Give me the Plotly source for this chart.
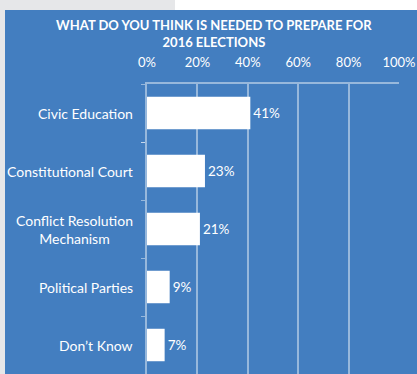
import plotly.graph_objects as go

categories = ["Civic Education", "Constitutional Court", "Conflict Resolution<br>Mechanism",
              "Political Parties", "Don\u2019t Know"]
values = [41, 23, 21, 9, 7]
tick_vals = [0, 20, 40, 60, 80, 100]
tick_text = ["0%", "20%", "40%", "60%", "80%", "100%"]
title_text = "WHAT DO YOU THINK IS NEEDED TO PREPARE FOR<br>2016 ELECTIONS"

BLUE = "#437ec0"
GRID = "rgba(255,255,255,0.45)"
FONT = "Lato"

W, H = 417, 374
L, R, T, B = 147, 18, 84, 0
pw, ph = W - L - R, H - T - B

def px(x):
    return (x - L) / pw

def py(y):
    return 1 - (y - T) / ph

fig = go.Figure()
fig.add_trace(go.Bar(
    x=values, y=categories, orientation="h",
    marker=dict(color="white", line=dict(width=0)),
    text=[f"{v}%" for v in values], textposition="outside",
    textfont=dict(color="white", size=13.5, family=FONT),
    cliponaxis=False, hoverinfo="skip",
))

annotations = []
for c in categories:
    annotations.append(dict(
        x=px(135), xref="paper", y=c, yref="y", text=c, showarrow=False,
        xanchor="right", yanchor="middle", align="center",
        font=dict(color="white", size=14, family=FONT),
    ))

shapes = [
    dict(type="rect", xref="paper", yref="paper", x0=px(0), x1=px(5), y0=py(374), y1=py(0),
         fillcolor="#e6e7e9", line=dict(width=0), layer="below"),
    dict(type="rect", xref="paper", yref="paper", x0=px(0), x1=px(175), y0=py(10), y1=py(0),
         fillcolor="#e6e7e9", line=dict(width=0), layer="below"),
    dict(type="rect", xref="paper", yref="paper", x0=px(175), x1=px(417), y0=py(10), y1=py(0),
         fillcolor="#ffffff", line=dict(width=0), layer="below"),
]

fig.update_layout(
    width=W, height=H, margin=dict(l=L, r=R, t=T, b=B, pad=0),
    paper_bgcolor=BLUE, plot_bgcolor="rgba(0,0,0,0)",
    showlegend=False, bargap=0.44,
    font=dict(family=FONT, color="white", size=13),
    title=dict(text="<b>" + title_text + "</b>", x=0.513, xanchor="center",
               y=1 - 30 / H, yanchor="middle", yref="container",
               font=dict(size=13, color="white", family=FONT)),
    xaxis=dict(side="top", range=[0, 100], tickvals=tick_vals, ticktext=tick_text,
               showgrid=True, gridcolor=GRID, gridwidth=1.5, zeroline=False,
               showline=True, linecolor=GRID, linewidth=1.5,
               ticks="outside", ticklen=10, tickcolor="rgba(0,0,0,0)",
               tickfont=dict(size=13, color="white", family=FONT), fixedrange=True),
    yaxis=dict(autorange="reversed", showticklabels=False, showgrid=False,
               showline=True, linecolor=GRID, linewidth=1.5, zeroline=False,
               ticks="outside", ticklen=4, tickcolor=GRID, tickson="boundaries",
               fixedrange=True),
    annotations=annotations, shapes=shapes,
)

fig.write_html("out.html")
